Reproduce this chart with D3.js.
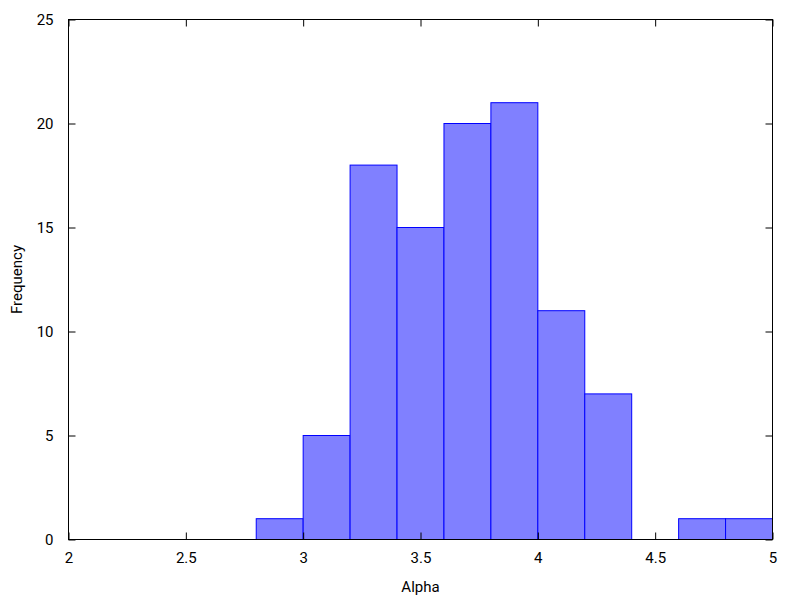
<!DOCTYPE html>
<html><head><meta charset="utf-8">
<script src="https://cdn.jsdelivr.net/npm/d3@7"></script>
<style>body{margin:0;background:#fff}svg{display:block}text{font-family:Roboto,"Noto Sans",sans-serif;font-size:15px;fill:#000}</style>
</head><body>
<script>
const binStarts = [2.8, 3.0, 3.2, 3.4, 3.6, 3.8, 4.0, 4.2, 4.4, 4.6, 4.8];
const binWidth = 0.2;
const counts = [1, 5, 18, 15, 20, 21, 11, 7, 0, 1, 1];
const xTicks = [2, 2.5, 3, 3.5, 4, 4.5, 5];
const yTicks = [0, 5, 10, 15, 20, 25];

const W = 800, H = 600;
const L = 68.5, R = 772.5, T = 19.5, B = 539.5;
const svg = d3.select("body").append("svg").attr("width", W).attr("height", H);
const x = d3.scaleLinear().domain([2, 5]).range([L, R]);
const y = d3.scaleLinear().domain([0, 25]).range([B, T]);

// bars
svg.append("g").selectAll("rect")
  .data(binStarts.map((s, i) => ({s, c: counts[i]})).filter(d => d.c > 0))
  .join("rect")
  .attr("x", d => x(d.s))
  .attr("y", d => y(d.c))
  .attr("width", d => x(d.s + binWidth) - x(d.s))
  .attr("height", d => y(0) - y(d.c))
  .attr("fill", "#8080ff")
  .attr("stroke", "#0000ff")
  .attr("stroke-width", 1);

const tl = 7;
const xb = d3.axisBottom(x).tickValues(xTicks).tickSize(-tl).tickPadding(13).tickFormat(d3.format("~g"));
const xt = d3.axisTop(x).tickValues(xTicks).tickSize(-tl).tickFormat("");
const yl = d3.axisLeft(y).tickValues(yTicks).tickSize(-tl).tickPadding(15);
const yr = d3.axisRight(y).tickValues(yTicks).tickSize(-tl).tickFormat("");

function style(g){ g.select(".domain").remove(); g.selectAll("line").attr("stroke","#000").attr("stroke-width",1); g.selectAll("text").attr("font-family","Roboto,'Noto Sans',sans-serif").attr("font-size",15).attr("fill","#000"); }
svg.append("g").attr("transform", `translate(0,${B})`).call(xb).call(style);
svg.append("g").attr("transform", `translate(0,${T})`).call(xt).call(style);
svg.append("g").attr("transform", `translate(${L},0)`).call(yl).call(style);
svg.append("g").attr("transform", `translate(${R},0)`).call(yr).call(style);

svg.append("rect").attr("x", L).attr("y", T).attr("width", R - L).attr("height", B - T)
  .attr("fill", "none").attr("stroke", "#000").attr("stroke-width", 1);

svg.append("text").attr("x", (L + R) / 2).attr("y", 592).attr("text-anchor", "middle").text("Alpha");
svg.append("text").attr("transform", `translate(22,${(T + B) / 2}) rotate(-90)`).attr("text-anchor", "middle").text("Frequency");
</script>
</body></html>
